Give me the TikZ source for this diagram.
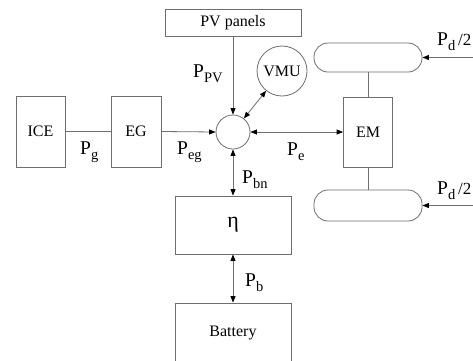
\documentclass[tikz,border=0pt]{standalone}
\usepackage{fontspec}
\setmainfont{Liberation Serif}
\usetikzlibrary{arrows.meta}
\definecolor{linegray}{RGB}{110,110,110}
\newcommand\plabel[1]{{\fontsize{19.5}{20}\selectfont P}{\fontsize{14.5}{15}\selectfont\raisebox{-5pt}{#1}}}
\begin{document}
\begin{tikzpicture}[x=1pt,y=-1pt,
  boxstyle/.style={draw=linegray,line width=0.8pt,rectangle,inner sep=0pt,font=\fontsize{16}{17}\selectfont},
  wheelstyle/.style={draw=linegray,line width=0.8pt,rectangle,rounded corners=14pt,inner sep=0pt},
  conn/.style={draw=linegray,line width=0.8pt},
  tip/.tip={Triangle[length=6.5pt,width=5pt,color=black]},
  lab/.style={anchor=base west,inner sep=0pt}]
\path[use as bounding box,clip] (0,0) rectangle (473,360);
\fill[white] (0,0) rectangle (473,360);
% boxes
\node[boxstyle,minimum width=136pt,minimum height=27pt] (pv) at (233,22.5) {PV panels};
\node[boxstyle,minimum width=49pt,minimum height=71pt] (ice) at (40.5,131.5) {ICE};
\node[boxstyle,minimum width=50pt,minimum height=71pt] (eg) at (136,131.5) {EG};
\node[draw=linegray,line width=0.8pt,circle,minimum size=34pt,inner sep=0pt] (j) at (233,132) {};
\node[draw=linegray,line width=0.8pt,circle,minimum size=50pt,inner sep=0pt,font=\fontsize{16}{17}\selectfont] (vmu) at (282,71) {VMU};
\node[boxstyle,minimum width=49pt,minimum height=70pt] (em) at (368,132) {EM};
\node[wheelstyle,minimum width=108pt,minimum height=29pt] (w1) at (368,57.5) {};
\node[wheelstyle,minimum width=108pt,minimum height=31pt] (w2) at (368,205.5) {};
\node[boxstyle,minimum width=116pt,minimum height=58pt,font=\fontsize{22}{23}\selectfont] (eta) at (233,225) {η};
\node[boxstyle,minimum width=116pt,minimum height=60pt] (bat) at (233,333) {Battery};
\coordinate (d1) at (476,57.5);
\coordinate (d2) at (476,205.5);
% connectors
\draw[conn,-tip] (pv.south) -- (j.north);
\draw[conn] (ice.east) -- (eg.west);
\draw[conn,-tip] (eg.east) -- (j.west);
\draw[conn,tip-tip] (vmu) -- (j);
\draw[conn,tip-tip] (j.east) -- (em.west);
\draw[conn,tip-tip] (j.south) -- (eta.north);
\draw[conn,tip-tip] (eta.south) -- (bat.north);
\draw[conn] (w1.south) -- (em.north);
\draw[conn] (em.south) -- (w2.north);
\draw[conn,-tip] (d1) -- (w1.east);
\draw[conn,-tip] (d2) -- (w2.east);
% labels
\node[lab] (lpv) at (193,77) {\plabel{PV}};
\node[lab] (lg) at (80,154) {\plabel{g}};
\node[lab] (leg) at (177,154) {\plabel{eg}};
\node[lab] (le) at (287,155) {\plabel{e}};
\node[lab] (lbn) at (242,183) {\plabel{bn}};
\node[lab] (lb) at (245,286) {\plabel{b}};
\node[lab] (ld1) at (437,45) {\plabel{d}{\fontsize{17}{18}\selectfont\,/2}};
\node[lab] (ld2) at (437,194) {\plabel{d}{\fontsize{17}{18}\selectfont\,/2}};
\end{tikzpicture}
\end{document}
